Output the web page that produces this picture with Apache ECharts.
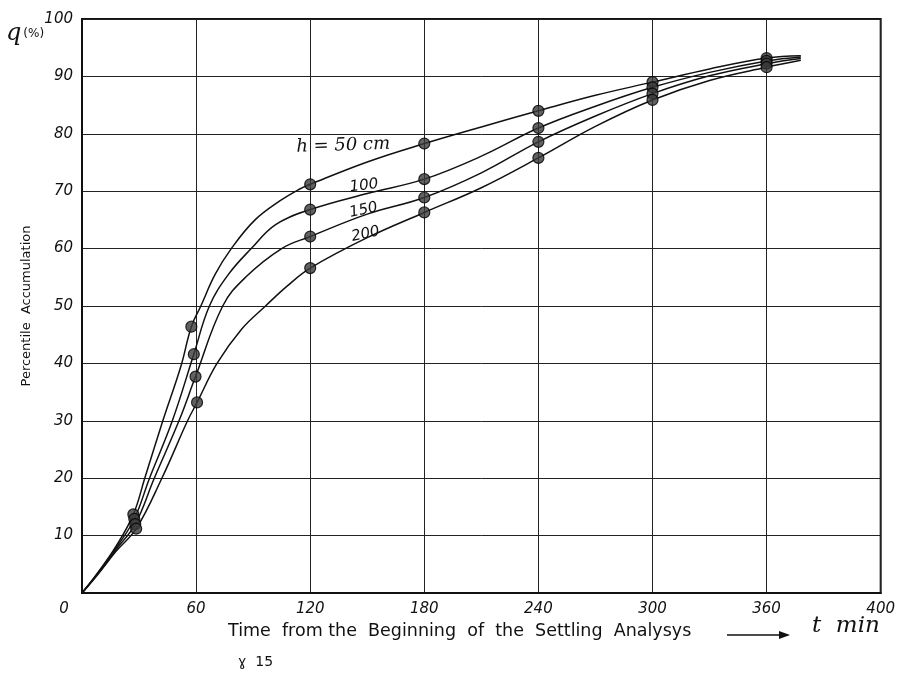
<!DOCTYPE html>
<html>
<head>
<meta charset="utf-8">
<script src="https://cdn.jsdelivr.net/npm/echarts@6/dist/echarts.min.js"></script>
<style>
html,body{margin:0;padding:0;background:#fff;}
#c{width:898px;height:684px;}
</style>
</head>
<body>
<div id="c"></div>
<script>
// ---- tick labels ----
const xTickLabels = ['0','60','120','180','240','300','360','400'];
const yTickLabels = ['','10','20','30','40','50','60','70','80','90','100'];

// ---- series names ----
const seriesNames = ['h = 50 cm', '100', '150', '200'];

// ---- measured points [t (min), q (%)] ----
const pts50  = [[27,13.7],[57.5,46.4],[120,71.2],[180,78.3],[240,84.0],[300,89.0],[360,93.2]];
const pts100 = [[27.5,12.9],[58.8,41.6],[120,66.8],[180,72.1],[240,81.0],[300,88.1],[360,92.7]];
const pts150 = [[28,12.0],[59.7,37.7],[120,62.1],[180,68.9],[240,78.6],[300,87.0],[360,92.2]];
const pts200 = [[28.5,11.2],[60.5,33.2],[120,56.6],[180,66.3],[240,75.8],[300,85.9],[360,91.6]];

// ---- drawn curves [t, q] ----
const curve50  = [[0,0],[8,3.4],[18,8.2],[27,13.7],[33,20],[42.5,30],[52,39.5],[57.5,46.4],[62.5,50],[70,55.5],[78.5,60],[91,65],[104,68.3],[114,70.3],[120,71.2],[150,75.1],[180,78.3],[210,81.2],[240,84.0],[270,86.7],[300,89.0],[330,91.3],[360,93.2],[378,93.6]];
const curve100 = [[0,0],[8,3.3],[18,7.9],[27.5,12.9],[35.5,20],[47.5,30],[58.8,41.6],[67,50],[77,55.5],[89,60],[102,64.2],[120,66.8],[150,69.6],[180,72.1],[210,76.1],[240,81.0],[270,84.8],[300,88.1],[330,90.7],[360,92.7],[378,93.4]];
const curve150 = [[0,0],[8,3.2],[18,7.6],[28,12.0],[38,20],[51,30],[59.7,37.7],[74,50],[86,55],[105,60],[120,62.1],[150,66.0],[180,68.9],[210,73.2],[240,78.6],[270,83.1],[300,87.0],[330,90.1],[360,92.2],[378,93.1]];
const curve200 = [[0,0],[8,3.1],[18,7.3],[28.5,11.2],[42,20],[55.5,30],[60.5,33.2],[71,40],[84,46],[96.5,50],[108,53.5],[120,56.6],[150,61.9],[180,66.3],[210,70.6],[240,75.8],[270,81.3],[300,85.9],[330,89.3],[360,91.6],[378,92.8]];

const curves = [curve50, curve100, curve150, curve200];
const points = [pts50, pts100, pts150, pts200];

const ink = '#111';
const numFont = 'DejaVu Sans';

const series = [];
curves.forEach((c, i) => {
  series.push({
    name: seriesNames[i], type: 'line', data: c, smooth: 0.4,
    showSymbol: false, lineStyle: { color: ink, width: 1.5 }, z: 3, silent: true
  });
});
points.forEach((p, i) => {
  series.push({
    name: seriesNames[i] + ' pts', type: 'scatter', data: p, symbol: 'circle', symbolSize: 11,
    itemStyle: { color: '#3a3a3a', borderColor: '#000', borderWidth: 1.2 }, z: 5
  });
});

const chart = echarts.init(document.getElementById('c'));
chart.setOption({
  animation: false,
  backgroundColor: '#fff',
  grid: { left: 82, right: 16, top: 19, bottom: 91, show: true, borderColor: ink, borderWidth: 2 },
  xAxis: {
    type: 'value', min: 0, max: 420, interval: 60,
    axisLine: { show: true, lineStyle: { color: ink, width: 2 } },
    axisTick: { show: false },
    splitLine: { show: true, lineStyle: { color: '#222', width: 1 } },
    axisLabel: {
      margin: 9, color: ink, fontFamily: numFont, fontStyle: 'italic', fontSize: 15,
      formatter: v => {
        const s = xTickLabels[Math.round(v / 60)] || '';
        return v === 0 ? '{z|' + s + '}' : s;
      },
      rich: { z: { padding: [0, 36, 0, 0], color: ink, fontFamily: numFont, fontStyle: 'italic', fontSize: 15 } }
    }
  },
  yAxis: {
    type: 'value', min: 0, max: 100, interval: 10,
    axisLine: { show: true, lineStyle: { color: ink, width: 2 } },
    axisTick: { show: false },
    splitLine: { show: true, lineStyle: { color: '#222', width: 1 } },
    axisLabel: {
      margin: 9, color: ink, fontFamily: numFont, fontStyle: 'italic', fontSize: 15,
      padding: [0, 0, 10, 0],
      formatter: v => yTickLabels[Math.round(v / 10)] || ''
    },
    name: 'Percentile  Accumulation', nameLocation: 'middle', nameGap: 42, nameRotate: 90,
    nameTextStyle: { color: ink, fontFamily: numFont, fontSize: 13 }
  },
  graphic: [
    { type: 'text', left: 6, top: 22, style: {
        text: '{q|q}{p|(%)}', rich: {
          q: { fontFamily: 'DejaVu Serif', fontStyle: 'italic', fontSize: 24, fill: ink },
          p: { fontFamily: numFont, fontSize: 12, fill: ink, padding: [0, 0, 0, 2] } } } },
    { type: 'text', x: 296, y: 138, rotation: 0.03, style: { text: 'h = 50 cm', fontFamily: 'DejaVu Serif', fontStyle: 'italic', fontSize: 18, fill: ink } },
    { type: 'text', x: 349, y: 180, rotation: 0.12, style: { text: '100', fontFamily: numFont, fontStyle: 'italic', fontSize: 15, fill: ink } },
    { type: 'text', x: 348, y: 206, rotation: 0.22, style: { text: '150', fontFamily: numFont, fontStyle: 'italic', fontSize: 15, fill: ink } },
    { type: 'text', x: 350, y: 230, rotation: 0.22, style: { text: '200', fontFamily: numFont, fontStyle: 'italic', fontSize: 15, fill: ink } },
    { type: 'text', x: 228, y: 622, style: { text: 'Time  from the  Beginning  of  the  Settling  Analysys', fontFamily: numFont, fontSize: 17.5, fill: ink } },
    { type: 'line', shape: { x1: 727, y1: 635, x2: 788, y2: 635 }, style: { stroke: ink, lineWidth: 1.3 } },
    { type: 'polygon', shape: { points: [[790, 635], [779, 631], [779, 639]] }, style: { fill: ink } },
    { type: 'text', x: 812, y: 615, style: { text: 't  min', fontFamily: 'DejaVu Serif', fontStyle: 'italic', fontSize: 23, fill: ink } },
    { type: 'text', x: 238, y: 655, style: { text: 'ɣ  15', fontFamily: numFont, fontSize: 14, fill: ink } }
  ],
  series: series
});
</script>
</body>
</html>
